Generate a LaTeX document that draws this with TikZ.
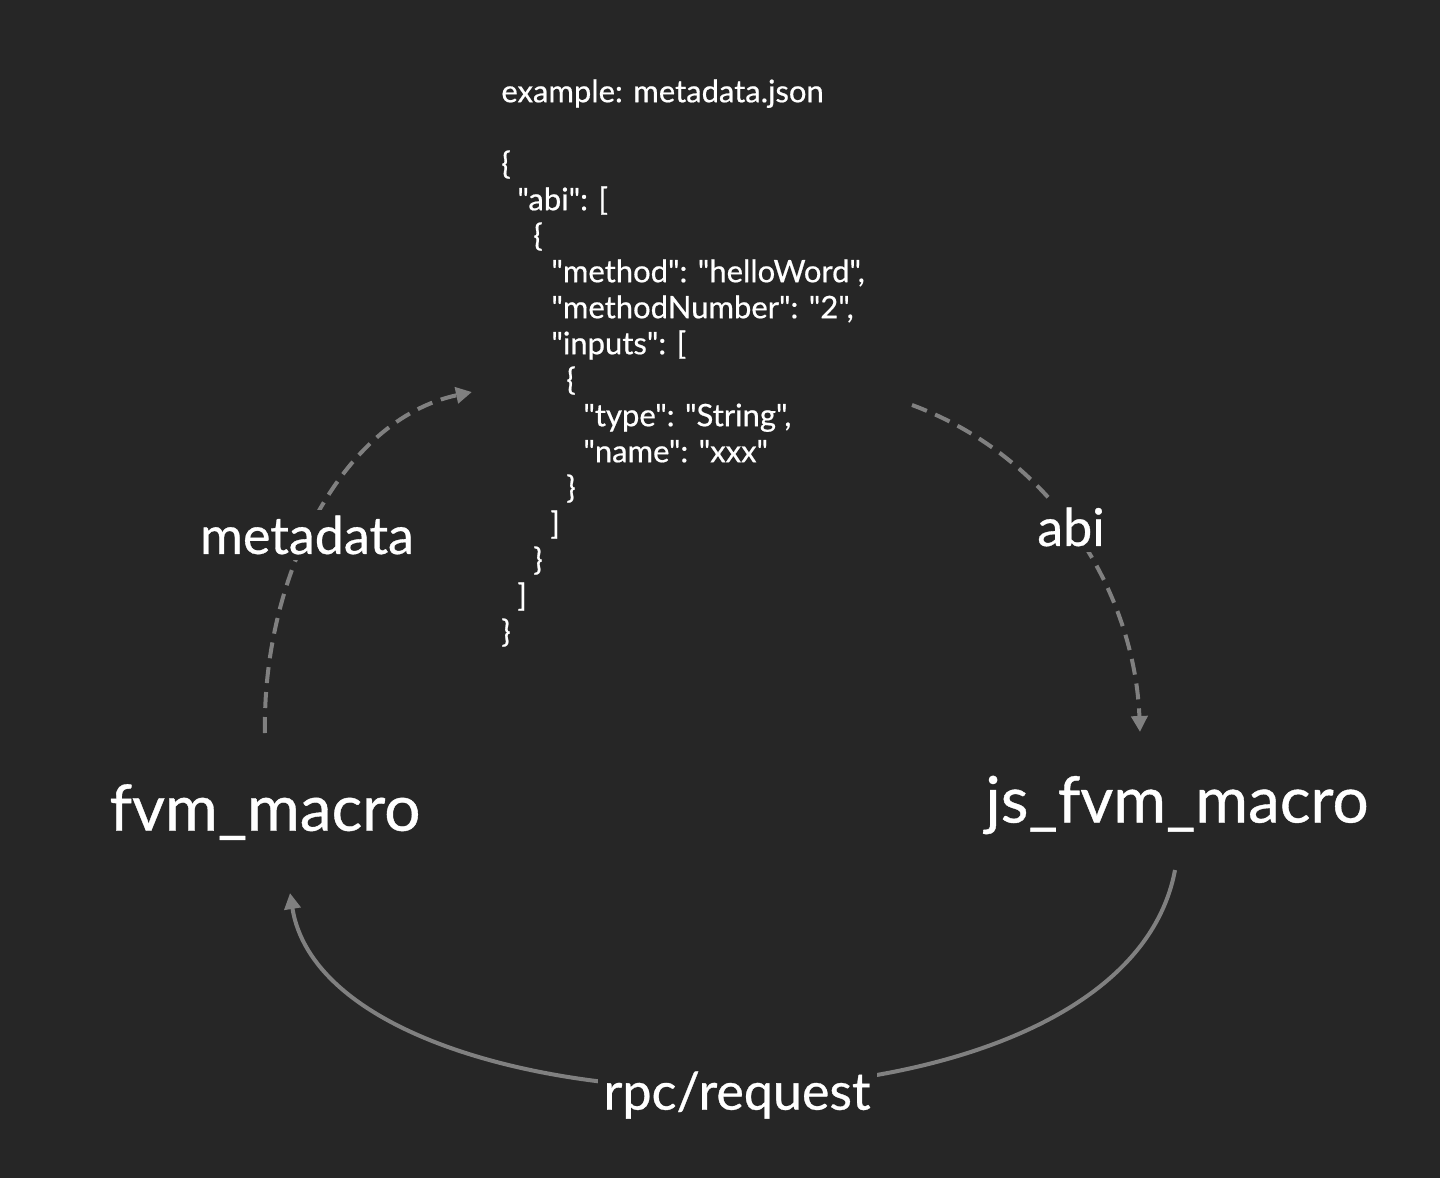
\documentclass[tikz,border=0pt]{standalone}
\usepackage{fontspec}
\setmainfont{Lato}[Ligatures=TeXOff, FakeBold=0.6]
\usetikzlibrary{arrows.meta}
\definecolor{bg}{HTML}{262626}
\definecolor{edge}{HTML}{808080}
\tikzset{
  big/.style={text=white, font=\fontsize{32pt}{38pt}\selectfont, inner sep=0pt},
  lbl/.style={text=white, fill=bg, font=\fontsize{26pt}{30pt}\selectfont, inner sep=3pt},
  conn/.style={draw=edge, line width=2pt, -{Triangle[length=8pt,width=8pt]}},
  dconn/.style={conn, dash pattern=on 8pt off 4.5pt},
  code/.style={text=white, font=\fontsize{15.5pt}{18pt}\selectfont, align=left, inner sep=0pt, anchor=north west}
}
\newcommand{\ind}[1]{\hspace*{#1}}
\begin{document}
\begin{tikzpicture}[x=0.5pt,y=-0.5pt]
\fill[bg] (0,0) rectangle (1440,1178);
\useasboundingbox (0,0) rectangle (1440,1178);

\node[code] (json) at (501,79) {example: metadata.json\\[18pt]
\{\\
\ind{8pt}"abi": [\\
\ind{16pt}\{\\
\ind{25pt}"method": "helloWord",\\
\ind{25pt}"methodNumber": "2",\\
\ind{25pt}"inputs": [\\
\ind{32.5pt}\{\\
\ind{41pt}"type": "String",\\
\ind{41pt}"name": "xxx"\\
\ind{32.5pt}\}\\
\ind{24.5pt}]\\
\ind{16pt}\}\\
\ind{8pt}]\\
\}};

\node[big] (fvm) at (265,812) {fvm\_macro};
\node[big] (js) at (1177,805) {js\_fvm\_macro};

\coordinate (fvmtop) at (265,733);
\coordinate (jsonleft) at (472,392);
\coordinate (jsonright) at (912,405);
\coordinate (jstop) at (1140,732);
\coordinate (jsbot) at (1175,870);
\coordinate (fvmbot) at (290,893);

\draw[dconn] (fvmtop) .. controls (262,580) and (340,420) .. (jsonleft);
\draw[dconn] (jsonright) .. controls (1060,460) and (1135,600) .. (jstop);
\draw[conn] (jsbot) .. controls (1120,1165) and (330,1145) .. (fvmbot);

\node[lbl] (lmeta) at (307,535) {metadata};
\node[lbl] (labi) at (1071,527) {abi};
\node[lbl] (lrpc) at (737,1095) {rpc/request};
\end{tikzpicture}
\end{document}
